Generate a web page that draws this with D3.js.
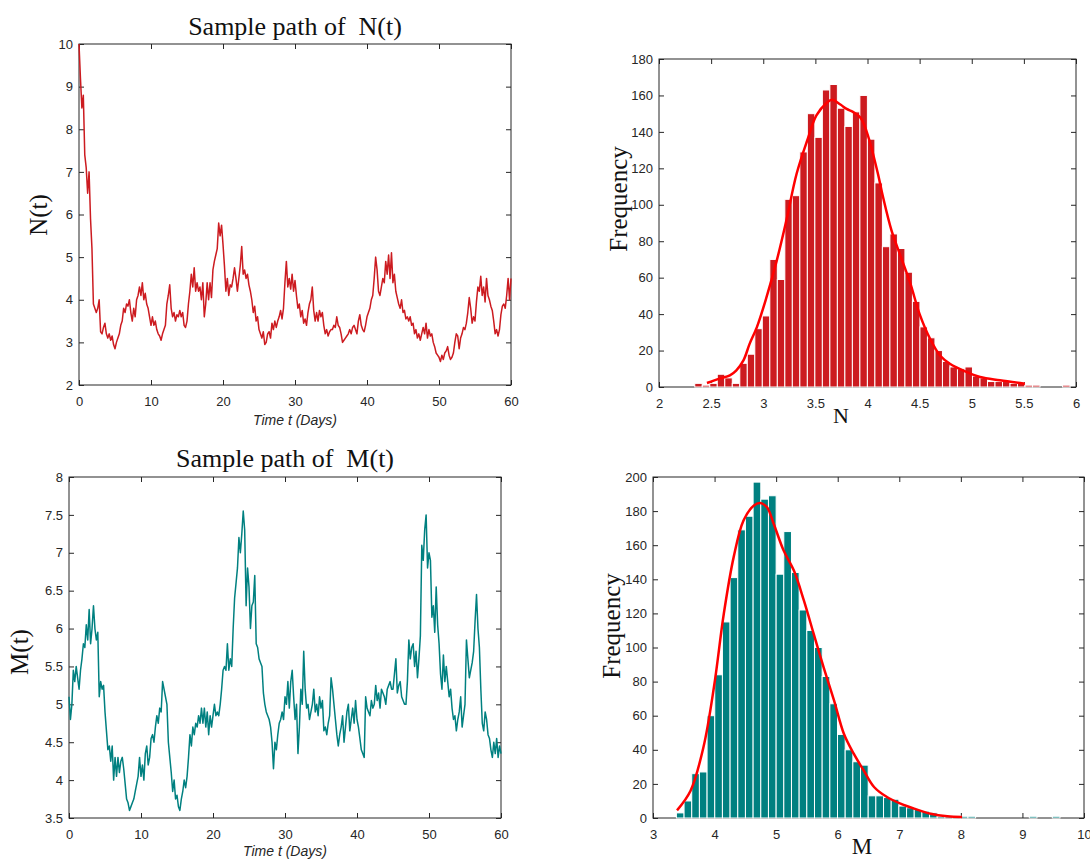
<!DOCTYPE html>
<html>
<head>
<meta charset="utf-8">
<script src="https://cdn.jsdelivr.net/npm/d3@7"></script>
<style>
  body { margin: 0; background: #fff; }
  svg { display: block; background: #fff; }
  .tick text { font-family: "Liberation Sans", Arial, sans-serif; font-size: 13px; fill: #262626; }
  .tick line { stroke: #262626; }
  .serif { font-family: "Liberation Serif", "Times New Roman", serif; fill: #111; white-space: pre; }
  .xlab { font-family: "Liberation Sans", Arial, sans-serif; font-style: italic; font-size: 14px; fill: #262626; }
</style>
</head>
<body>
<svg></svg>
<script>
const width = 1090;
const height = 859;

// шаг по времени для траекторий (дни)
const dt = 0.2;

// траектория N(t), t = 0 .. 60
const pathN = [
  10.0, 9.2, 8.5, 8.8, 7.4, 7.1, 6.5, 7.0, 5.9, 5.2,
  3.9, 3.8, 3.7, 3.8, 4.0, 3.25, 3.2, 3.35, 3.45, 3.2,
  3.1, 3.2, 3.05, 3.15, 2.95, 2.85, 3.0, 3.1, 3.2, 3.4,
  3.5, 3.8, 3.7, 3.9, 3.85, 4.0, 3.7, 3.5, 3.8, 3.6,
  4.0, 4.1, 4.3, 4.1, 4.4, 4.0, 4.15, 3.9, 3.8, 3.6,
  3.4, 3.6, 3.4, 3.5, 3.3, 3.2, 3.15, 3.05, 3.2, 3.3,
  3.4, 3.9, 4.1, 4.35, 3.8, 3.6, 3.7, 3.5, 3.65, 3.6,
  3.75, 3.6, 3.7, 3.4, 3.35, 3.5, 3.9, 4.2, 4.6, 4.3,
  4.75, 4.2, 4.4, 4.2, 4.3, 4.0, 4.4, 3.6, 3.9, 4.4,
  4.0, 4.4, 4.05, 4.7, 4.9, 5.05, 5.2, 5.8, 5.5, 5.75,
  5.3, 4.8, 4.2, 4.5, 4.1, 4.35, 4.3, 4.5, 4.75, 4.5,
  4.2, 4.5, 4.8, 5.25, 4.6, 4.7, 4.5, 4.6, 4.35, 4.2,
  4.0, 3.7, 3.85, 3.5, 3.6, 3.3, 3.2, 3.1, 3.25, 2.95,
  3.0, 3.2, 3.25, 3.1, 3.45, 3.3, 3.5, 3.35, 3.5, 3.6,
  3.75, 3.55, 3.8, 4.4, 4.9, 4.3, 4.5, 4.25, 4.6, 4.2,
  4.45, 4.1, 3.8, 3.9, 3.6, 3.75, 3.45, 3.55, 3.4, 3.7,
  3.9, 4.0, 4.3, 3.75, 3.5, 3.7, 3.5, 3.75, 3.6, 3.7,
  3.4, 3.2, 3.3, 3.15, 3.25, 3.3, 3.3, 3.4, 3.35, 3.6,
  3.4, 3.35, 3.2, 3.0, 3.05, 3.1, 3.15, 3.2, 3.3, 3.2,
  3.35, 3.4, 3.3, 3.2, 3.5, 3.65, 3.4, 3.3, 3.25, 3.4,
  3.6, 3.7, 3.8, 4.0, 4.1, 4.5, 5.0, 4.7, 4.2, 4.1,
  4.3, 4.5, 4.4, 4.9, 4.6, 5.05, 4.5, 5.1, 4.4, 4.6,
  4.2, 4.05, 3.9, 3.8, 4.0, 3.7, 3.75, 3.55, 3.6, 3.5,
  3.6, 3.4, 3.45, 3.2, 3.3, 3.1, 3.2, 3.05, 3.2, 3.35,
  3.2, 3.45, 3.1, 3.3, 3.15, 3.2, 3.0, 2.9, 2.75, 2.7,
  2.65, 2.55, 2.7, 2.6, 2.75, 2.8, 2.9, 2.7, 2.6, 2.65,
  2.75, 3.0, 3.2, 3.15, 2.85, 3.1, 3.2, 3.35, 3.3, 3.45,
  3.7, 4.05, 3.8, 3.45, 3.6, 3.5, 3.95, 4.3, 4.2, 4.55,
  4.1, 4.3, 3.95, 4.5, 4.1, 4.0, 3.85, 3.75, 3.5, 3.2,
  3.3, 3.15, 3.3, 3.65, 3.85, 3.9, 3.8, 4.1, 4.5, 4.0,
  4.5
];

// траектория M(t), t = 0 .. 60
const pathM = [
  5.1, 4.8, 5.0, 5.45, 5.3, 5.5, 5.35, 5.2, 5.45, 5.6,
  5.8, 5.75, 6.05, 5.85, 6.25, 5.8, 6.0, 6.3, 6.0, 5.85,
  5.95, 5.1, 5.3, 5.2, 5.25, 4.9, 4.65, 4.4, 4.45, 4.25,
  4.45, 4.0, 4.3, 4.05, 4.3, 4.1, 4.25, 4.3, 4.15, 3.95,
  3.75, 3.7, 3.6, 3.65, 3.7, 3.75, 3.85, 3.95, 4.05, 4.3,
  4.05, 4.2, 4.0, 4.35, 4.45, 4.2, 4.3, 4.55, 4.6, 4.5,
  4.7, 4.85, 4.75, 4.95, 4.9, 5.3, 5.2, 5.1, 5.0, 4.5,
  4.3, 4.1, 3.85, 4.0, 3.75, 3.8, 3.65, 3.6, 3.75, 3.85,
  4.0, 3.9, 4.05, 4.3, 4.6, 4.45, 4.7, 4.6, 4.75, 4.7,
  4.85, 4.75, 4.95, 4.75, 4.95, 4.7, 4.9, 4.6, 4.85, 4.7,
  4.85, 5.0, 4.85, 4.9, 4.85, 5.0, 5.2, 5.45, 5.5, 5.45,
  5.8, 5.45, 5.6, 5.5, 6.0, 6.4, 6.6, 6.8, 7.2, 7.0,
  7.25, 7.55, 7.3, 6.3, 6.8, 6.55, 6.0, 6.3, 6.35, 6.7,
  5.8, 5.75, 5.6, 5.55, 5.5, 5.15, 5.0, 4.9, 4.85, 4.8,
  4.7, 4.5, 4.15, 4.5, 4.4, 4.6, 4.75, 4.8, 4.9, 4.8,
  5.1, 5.0, 5.3, 4.95, 5.3, 5.45, 5.1, 4.8, 5.0, 4.35,
  4.7, 5.2, 5.0, 5.7, 5.2, 4.95, 5.0, 4.8, 4.9, 5.0,
  5.2, 4.9, 5.0, 4.85, 5.1, 4.95, 5.05, 4.65, 4.7, 4.6,
  4.75, 4.85, 5.35, 5.2, 5.0, 4.8, 4.6, 4.45, 4.6, 4.7,
  4.85, 4.5, 4.7, 4.9, 5.0, 4.65, 4.8, 4.95, 4.75, 5.05,
  4.8, 4.7, 4.55, 4.4, 4.35, 4.3, 5.1, 4.95, 4.9, 4.85,
  5.05, 4.95, 5.0, 5.25, 5.05, 5.15, 4.95, 5.2, 5.15, 5.1,
  5.0, 5.2, 5.25, 5.3, 5.2, 5.2, 5.4, 5.6, 5.15, 5.25,
  5.3, 5.1, 5.05, 5.0, 5.0, 5.3, 5.85, 5.6, 5.75, 5.8,
  5.5, 5.7, 5.35, 5.6, 5.9, 7.1, 6.9, 7.3, 7.5, 6.8,
  7.0, 6.9, 6.15, 6.3, 5.95, 6.55, 6.05, 5.8, 5.4, 5.2,
  5.65, 5.3, 5.5, 5.3, 5.1, 5.2, 4.95, 4.8, 4.85, 4.65,
  4.8, 4.9, 5.1, 4.7, 4.85, 5.0, 5.85, 5.6, 5.35, 5.45,
  5.55, 5.7, 6.1, 6.45, 6.0, 5.75, 5.2, 4.75, 4.65, 4.9,
  4.8, 4.6, 4.55, 4.4, 4.3, 4.5, 4.35, 4.55, 4.3, 4.45,
  4.35
];

// гистограмма N: 50 интервалов
const binStartN = 2.343;
const binWidthN = 0.072;
const countsN = [
  2, 1, 2, 7, 5, 2, 13, 18, 32, 39,
  70, 59, 103, 105, 129, 150, 137, 163, 166, 153,
  143, 151, 160, 136, 112, 77, 84, 76, 63, 47,
  33, 27, 20, 14, 11, 10, 11, 6, 5, 3,
  3, 3, 2, 2, 1, 1, 0, 0, 0, 1
];
// сглаженная кривая плотности для N
const fitNx = [2.46, 2.58, 2.68, 2.74, 2.81, 2.87, 2.94, 3.03, 3.13, 3.22, 3.32, 3.42, 3.51, 3.61, 3.66, 3.74, 3.80, 3.86, 3.93, 3.96, 4.02, 4.10, 4.15, 4.23, 4.31, 4.41, 4.50, 4.60, 4.70, 4.79, 4.92, 5.08, 5.27, 5.51];
const fitNy = [2.2, 4.6, 6.4, 9, 14.6, 23.8, 33, 49, 69.5, 91, 117, 135, 149, 156, 157.6, 155, 152.6, 151, 148, 145, 135, 117, 104, 86, 73, 57, 40, 26.5, 17, 12.8, 9, 5.5, 3.7, 1.8];

// гистограмма M: 50 интервалов
const binStartM = 3.38;
const binWidthM = 0.1246;
const countsM = [
  3, 10, 26, 27, 60, 84, 115, 141, 169, 177,
  197, 187, 189, 143, 168, 144, 122, 110, 100, 83,
  67, 49, 40, 33, 31, 13, 13, 12, 11, 7,
  6, 5, 4, 3, 1, 1, 1, 1, 1, 0,
  0, 0, 0, 0, 0, 0, 1, 0, 0, 1
];
const fitMx = [3.39, 3.61, 3.82, 3.99, 4.15, 4.31, 4.47, 4.64, 4.74, 4.85, 4.96, 5.12, 5.29, 5.45, 5.61, 5.77, 5.94, 6.10, 6.26, 6.42, 6.59, 6.80, 7.02, 7.24, 7.51, 7.78, 8.02];
const fitMy = [4.5, 16, 41.6, 76.8, 119.8, 153, 174.5, 183.3, 184.7, 182.3, 172.6, 157, 145, 127.6, 108, 88.5, 69, 49.4, 37.7, 28, 18.2, 12.3, 8.4, 5.5, 2.5, 1, 0.6];

// деления осей
const ticksT = [0, 10, 20, 30, 40, 50, 60];
const ticksNval = [2, 3, 4, 5, 6, 7, 8, 9, 10];
const ticksMval = [3.5, 4, 4.5, 5, 5.5, 6, 6.5, 7, 7.5, 8];
const ticksNhistX = [2, 2.5, 3, 3.5, 4, 4.5, 5, 5.5, 6];
const ticksNhistY = [0, 20, 40, 60, 80, 100, 120, 140, 160, 180];
const ticksMhistX = [3, 4, 5, 6, 7, 8, 9, 10];
const ticksMhistY = [0, 20, 40, 60, 80, 100, 120, 140, 160, 180, 200];

const colN = "#cc1b20";
const colM = "#008080";
const colFit = "#ff0000";

let svg = d3.select("svg")
  .attr("width", width)
  .attr("height", height);

// рамка с делениями внутрь на всех четырёх сторонах
function drawFrame(box, scX, scY, xTicks, yTicks) {
  const w = box.right - box.left;
  const h = box.bottom - box.top;
  let g = svg.append("g").attr("transform", `translate(${box.left}, ${box.top})`);
  const fmt = d3.format("~g");
  g.append("g")
    .attr("transform", `translate(0, ${h})`)
    .call(d3.axisBottom(scX).tickValues(xTicks).tickSizeInner(-5).tickSizeOuter(0).tickPadding(12).tickFormat(fmt))
    .call(a => a.select(".domain").remove());
  g.append("g")
    .call(d3.axisTop(scX).tickValues(xTicks).tickSizeInner(-5).tickSizeOuter(0).tickFormat(""))
    .call(a => a.select(".domain").remove());
  g.append("g")
    .call(d3.axisLeft(scY).tickValues(yTicks).tickSizeInner(-5).tickSizeOuter(0).tickPadding(6).tickFormat(fmt))
    .call(a => a.select(".domain").remove());
  g.append("g")
    .attr("transform", `translate(${w}, 0)`)
    .call(d3.axisRight(scY).tickValues(yTicks).tickSizeInner(-5).tickSizeOuter(0).tickFormat(""))
    .call(a => a.select(".domain").remove());
  g.append("rect")
    .attr("width", w)
    .attr("height", h)
    .attr("fill", "none")
    .attr("stroke", "#262626")
    .attr("stroke-width", 1);
  return g;
}

function drawPath(box, values, yDomain, yTicks, color) {
  let scX = d3.scaleLinear().domain([0, 60]).range([0, box.right - box.left]);
  let scY = d3.scaleLinear().domain(yDomain).range([box.bottom - box.top, 0]);
  let g = drawFrame(box, scX, scY, ticksT, yTicks);
  let line = d3.line()
    .x((d, i) => scX(i * dt))
    .y(d => scY(d));
  g.append("path")
    .datum(values)
    .attr("d", line)
    .attr("fill", "none")
    .attr("stroke", color)
    .attr("stroke-width", 1.5)
    .attr("stroke-linejoin", "round");
}

function drawHist(box, xDomain, yDomain, xTicks, yTicks, start, step, counts, fx, fy, color) {
  let scX = d3.scaleLinear().domain(xDomain).range([0, box.right - box.left]);
  let scY = d3.scaleLinear().domain(yDomain).range([box.bottom - box.top, 0]);
  let g = drawFrame(box, scX, scY, xTicks, yTicks);
  g.selectAll(".bar")
    .data(counts)
    .enter()
    .append("rect")
    .attr("class", "bar")
    .attr("x", (d, i) => scX(start + i * step))
    .attr("width", scX(start + step) - scX(start))
    .attr("y", d => scY(d))
    .attr("height", d => scY(0) - scY(d))
    .attr("fill", color)
    .attr("stroke", "#fff")
    .attr("stroke-width", 1);
  let line = d3.line()
    .x(d => scX(d[0]))
    .y(d => scY(d[1]))
    .curve(d3.curveCatmullRom);
  g.append("path")
    .datum(fx.map((x, i) => [x, fy[i]]))
    .attr("d", line)
    .attr("fill", "none")
    .attr("stroke", colFit)
    .attr("stroke-width", 2.5);
}

function label(text, x, y, cls, size, rotate) {
  let t = svg.append("text")
    .attr("class", cls)
    .attr("text-anchor", "middle")
    .style("font-size", size ? `${size}px` : null)
    .text(text);
  if (rotate) {
    t.attr("transform", `translate(${x}, ${y}) rotate(-90)`);
  } else {
    t.attr("x", x).attr("y", y);
  }
}

const boxN = {left: 79, right: 511, top: 44, bottom: 385};
const boxNh = {left: 659, right: 1076, top: 59, bottom: 387};
const boxM = {left: 69, right: 501, top: 477, bottom: 818};
const boxMh = {left: 653, right: 1084, top: 477, bottom: 818};

drawPath(boxN, pathN, [2, 10], ticksNval, colN);
drawPath(boxM, pathM, [3.5, 8], ticksMval, colM);
drawHist(boxNh, [2, 6], [0, 180], ticksNhistX, ticksNhistY, binStartN, binWidthN, countsN, fitNx, fitNy, colN);
drawHist(boxMh, [3, 10], [0, 200], ticksMhistX, ticksMhistY, binStartM, binWidthM, countsM, fitMx, fitMy, colM);

// подписи
label("Sample path of  N(t)", 295, 35, "serif", 26);
label("Sample path of  M(t)", 285, 467, "serif", 26);
label("N(t)", 47, 215, "serif", 25, true);
label("M(t)", 28, 652, "serif", 25, true);
label("Time t (Days)", 295, 425, "xlab");
label("Time t (Days)", 285, 856, "xlab");
label("Frequency", 627, 199, "serif", 25, true);
label("Frequency", 620, 626, "serif", 25, true);
label("N", 841, 423, "serif", 22);
label("M", 862, 854, "serif", 23);
</script>
</body>
</html>
